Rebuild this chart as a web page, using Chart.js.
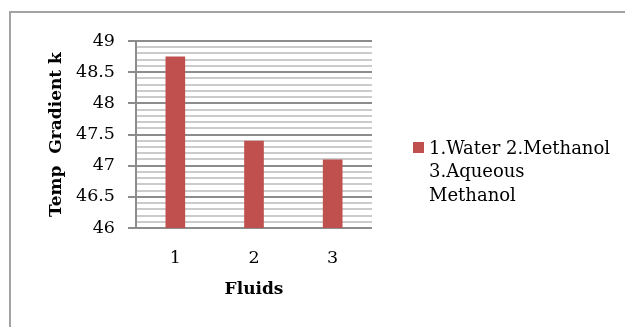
<!DOCTYPE html>
<html>
<head>
<meta charset="utf-8">
<script src="https://cdn.jsdelivr.net/npm/chart.js@4.4.1/dist/chart.umd.min.js"></script>
<style>
    html, body { margin: 0; padding: 0; background: #fff; }
    .wrap { position: relative; width: 625px; height: 327px; overflow: hidden; }
    .frame { position: absolute; left: 9px; top: 11px; width: 700px; height: 400px; border: 2px solid #a3a3a3; }
    canvas { position: absolute; left: 0; top: 0; }
</style>
</head>
<body>
<div class="wrap">
    <div class="frame"></div>
    <canvas id="chart" width="625" height="327"></canvas>
</div>
<script>
const categories = ['1', '2', '3'];
const gradientValues = [48.75, 47.4, 47.1];
const legendLines = ['1.Water 2.Methanol', '3.Aqueous', 'Methanol'];
const yMin = 46;
const yMax = 49;

const FONT = 'DejaVu Serif';
const BAR_COLOR = '#C0504D';

const isMajor = v => Math.abs(v * 2 - Math.round(v * 2)) < 1e-6;

// legend drawn by hand so the label can wrap the way the original does
const wrappedLegend = {
    id: 'wrappedLegend',
    afterDraw(chart) {
        const ctx = chart.ctx;
        ctx.save();
        ctx.fillStyle = BAR_COLOR;
        ctx.fillRect(413, 142, 11, 11);
        ctx.fillStyle = '#000';
        ctx.font = '18px "' + FONT + '"';
        ctx.textBaseline = 'middle';
        ctx.textAlign = 'left';
        legendLines.forEach((line, i) => {
            ctx.fillText(line, 429, 149 + i * 23.5);
        });
        ctx.restore();
    }
};

const ctx = document.getElementById('chart').getContext('2d');
new Chart(ctx, {
    type: 'bar',
    data: {
        labels: categories,
        datasets: [{
            label: legendLines.join(' '),
            data: gradientValues,
            backgroundColor: BAR_COLOR,
            barPercentage: 0.25,
            categoryPercentage: 1
        }]
    },
    options: {
        responsive: false,
        animation: false,
        layout: { padding: { top: 41, right: 253, left: 0, bottom: 0 } },
        plugins: {
            legend: { display: false },
            tooltip: { enabled: false }
        },
        scales: {
            x: {
                grid: { display: false },
                border: { display: false },
                ticks: {
                    color: '#000',
                    padding: 12,
                    font: { family: FONT, size: 17.5 }
                },
                title: {
                    display: true,
                    text: 'Fluids',
                    color: '#000',
                    padding: { bottom: 27 },
                    font: { family: FONT, size: 17, weight: 'bold' }
                },
                afterFit: scale => { scale.height = 99; }
            },
            y: {
                min: yMin,
                max: yMax,
                border: { display: true, color: '#8c8c8c', width: 2 },
                grid: {
                    color: c => isMajor(c.tick.value) ? '#8c8c8c' : '#cbcbcb',
                    lineWidth: 2,
                    tickLength: 8,
                    tickColor: c => isMajor(c.tick.value) ? '#8c8c8c' : 'rgba(0,0,0,0)',
                    tickWidth: 2
                },
                ticks: {
                    stepSize: 0.1,
                    autoSkip: false,
                    padding: 13,
                    color: '#000',
                    font: { family: FONT, size: 17.5 },
                    callback: v => isMajor(v) ? String(Math.round(v * 2) / 2) : ''
                },
                title: {
                    display: true,
                    text: 'Temp  Gradient k',
                    color: '#000',
                    padding: { top: 46 },
                    font: { family: FONT, size: 17, weight: 'bold' }
                },
                afterFit: scale => { scale.width = 136; }
            }
        }
    },
    plugins: [wrappedLegend]
});
</script>
</body>
</html>
